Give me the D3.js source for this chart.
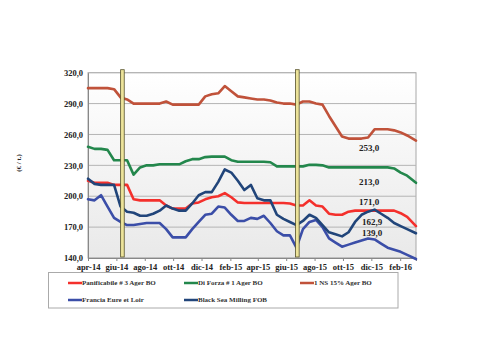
<!DOCTYPE html>
<html><head><meta charset="utf-8">
<script src="https://cdn.jsdelivr.net/npm/d3@7"></script>
<style>body{margin:0;background:#fff;} svg{display:block;}</style>
</head><body>
<svg id="chart" width="485" height="360"></svg>
<script>
const dates = ["2014-04-01","2014-04-15","2014-04-29","2014-05-13","2014-05-27","2014-06-10","2014-06-24","2014-07-08","2014-07-22","2014-08-05","2014-08-19","2014-09-02","2014-09-16","2014-09-30","2014-10-14","2014-10-28","2014-11-11","2014-11-25","2014-12-09","2014-12-23","2015-01-06","2015-01-20","2015-02-03","2015-02-17","2015-03-03","2015-03-17","2015-03-31","2015-04-14","2015-04-28","2015-05-12","2015-05-26","2015-06-09","2015-06-23","2015-07-07","2015-07-21","2015-08-04","2015-08-18","2015-09-01","2015-09-15","2015-09-29","2015-10-13","2015-10-27","2015-11-10","2015-11-24","2015-12-08","2015-12-22","2016-01-05","2016-01-19","2016-02-02","2016-02-16","2016-03-06"];
const panificabile = [215,213,213,213,211,211,211,197,196,196,196,196,191,188,188,188,193,194,197,199,200,203,199,194,193.5,193.5,193.5,193.5,193.5,193.5,193.5,193,191,191,196,191,190,183,182,182,185,186,186,186,186,186,186,186,183.5,180,171];
const diForza = [248,246,246,245,235,235,235,221,228,230,230,231,231,231,231,234,236,236,238,238.5,238.5,238.5,235,233.5,233.5,233.5,233.5,233.5,233,229,229,229,229,229,230.5,230.5,230,228,228,228,228,228,228,228,228,228,228,227,223,220,213];
const ns15 = [305,305,305,305,304,296,294,290,290,290,290,290,292,289,289,289,289,289,297,299,300,307,302,297,296,295,294,294,293,291,290,290,289,292,292,290,289,278,268,258,256,256,256,257,265,265,265,264,262,259,254];
const francia = [197,196,201,190,179,175,172,172,173,174,174,174,168,160,160,160,168,175,182,183,190,189,182,176,176,179,178,181,174,166,162,162,150,168,175,177,170,159,155,151,153,155,157,159,158,154,150,148,146,143,139];
const blackSea = [217,212,211,211,211,190,185,184,181,181,183,186,191,188,186,186,193,201,204,204,214,226,223,215,206,211,198,196,196,182,178,175,172,176,182,179,172,165,163,161,165,175,182,185,187,183,179,174,171,168,164];
const seriesNames = ["Panificabile # 3 Ager BO","Di Forza # 1 Ager BO","1 NS 15% Ager BO","Francia Eure et Loir","Black Sea Milling FOB"];
const seriesColors = ["#f4302c","#23874c","#c0523a","#3b4ea8","#21457a"];
const tickDates = ["2014-04-01","2014-06-01","2014-08-01","2014-10-01","2014-12-01","2015-02-01","2015-04-01","2015-06-01","2015-08-01","2015-10-01","2015-12-01","2016-02-01"];
const tickLabels = ["apr-14","giu-14","ago-14","ott-14","dic-14","feb-15","apr-15","giu-15","ago-15","ott-15","dic-15","feb-16"];
const yTicks = [140,170,200,230,260,290,320];
const markerDates = ["2014-06-14","2015-06-25"];
const endLabels = [{text:"253,0", v:253}, {text:"213,0", v:213}, {text:"171,0", v:171}, {text:"162,9", v:162.9}, {text:"139,0", v:139}];

const parse = d3.timeParse("%Y-%m-%d");
const svg = d3.select("#chart");
const L = 88, R = 416, T = 72.7, B = 258;
const x = d3.scaleTime().domain([parse("2014-04-01"), parse("2016-03-06")]).range([L, R]);
const y = d3.scaleLinear().domain([140, 320]).range([B, T]);
const font = "'Liberation Serif','Times New Roman',serif";

const defs = svg.append("defs");
const g = defs.append("linearGradient").attr("id","bg").attr("x1",0).attr("y1",0).attr("x2",0).attr("y2",1);
g.append("stop").attr("offset","0%").attr("stop-color","#ffffff");
g.append("stop").attr("offset","100%").attr("stop-color","#e9e9e9");
svg.append("rect").attr("x",L).attr("y",T).attr("width",R-L).attr("height",B-T).attr("fill","url(#bg)").attr("stroke","#a8a8a8").attr("stroke-width",1);

// grid
svg.append("g").selectAll("line").data(yTicks).join("line")
  .attr("x1",L).attr("x2",R).attr("y1",d=>y(d)).attr("y2",d=>y(d))
  .attr("stroke","#b4b4b4").attr("stroke-width",1);

// y axis
const yAxis = svg.append("g").attr("transform",`translate(${L},0)`)
  .call(d3.axisLeft(y).tickValues(yTicks).tickSize(0).tickPadding(5).tickFormat(d=>d3.format(".1f")(d).replace(".",",")));
yAxis.select(".domain").attr("stroke","#888");
yAxis.selectAll("text").attr("font-family",font).attr("font-weight","bold").attr("font-size","8.5px").attr("fill","#222");

// x axis
const xAxis = svg.append("g").attr("transform",`translate(0,${B})`)
  .call(d3.axisBottom(x).tickValues(tickDates.map(parse)).tickSize(3).tickPadding(3).tickFormat((d,i)=>tickLabels[i]));
xAxis.select(".domain").attr("stroke","#888");
xAxis.selectAll("line").attr("stroke","#888");
xAxis.selectAll("text").attr("font-family",font).attr("font-weight","bold").attr("font-size","8.5px").attr("fill","#222");

// y title
svg.append("text").attr("transform","translate(21,163) rotate(-90)").attr("text-anchor","middle")
  .attr("font-family",font).attr("font-weight","bold").attr("font-size","7px").attr("fill","#222").text("(€ / t.)");

// lines
const allSeries = [panificabile, diForza, ns15, francia, blackSea];
const line = d3.line().x((d,i)=>x(parse(dates[i]))).y(d=>y(d));
const drawOrder = [0,1,2,3,4];
svg.append("g").selectAll("path").data(drawOrder).join("path")
  .attr("d", k => line(allSeries[k]))
  .attr("fill","none").attr("stroke",k=>seriesColors[k]).attr("stroke-width",2.6)
  .attr("stroke-linejoin","round").attr("stroke-linecap","round");

// markers
svg.append("g").selectAll("rect").data(markerDates).join("rect")
  .attr("x",d=>x(parse(d))-1.8).attr("y",T-3).attr("width",3.6).attr("height",B-T+2)
  .attr("fill","#ece39a").attr("stroke","#55502a").attr("stroke-width",0.8);

// end labels
svg.append("g").selectAll("text").data(endLabels).join("text")
  .attr("x",(d,i)=> i===3||i===4 ? 372 : 369).attr("y",(d,i)=>[151,185,205,225,236][i])
  .attr("text-anchor","middle").attr("font-family",font).attr("font-weight","bold").attr("font-size","9px").attr("fill","#222")
  .text(d=>d.text);

// legend
svg.append("rect").attr("x",48.5).attr("y",272.5).attr("width",349.5).attr("height",35.5)
  .attr("fill","#fff").attr("stroke","#aaa").attr("stroke-width",1);
const legPos = [[68,283],[184,283],[300,283],[68,300],[184,300]];
const lg = svg.append("g").selectAll("g").data(seriesNames).join("g")
  .attr("transform",(d,i)=>`translate(${legPos[i][0]},${legPos[i][1]})`);
lg.append("line").attr("x1",0).attr("x2",14).attr("stroke",(d,i)=>seriesColors[i]).attr("stroke-width",2.5);
lg.append("text").attr("x",14).attr("y",2.4).attr("font-family",font).attr("font-weight","bold").attr("font-size","7px").attr("fill","#333").text(d=>d);
</script>
</body></html>
